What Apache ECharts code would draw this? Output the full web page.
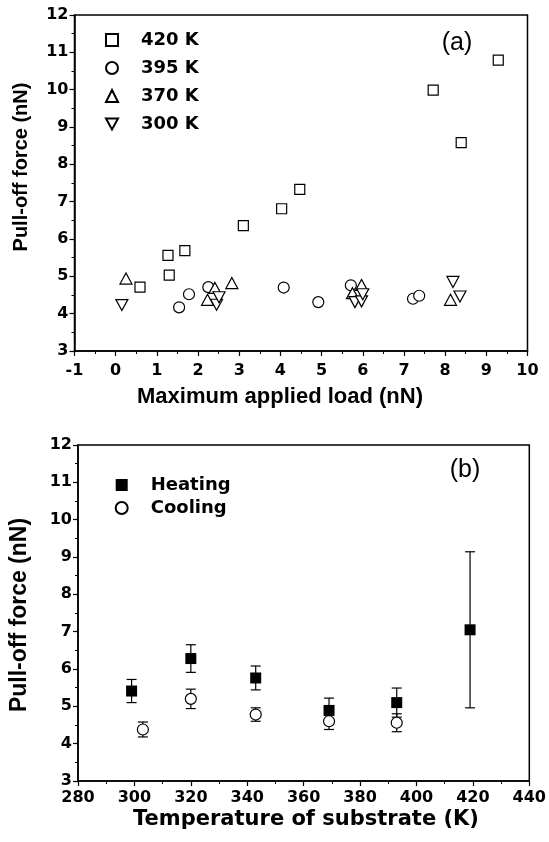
<!DOCTYPE html>
<html><head><meta charset="utf-8">
<script src="https://cdn.jsdelivr.net/npm/echarts@6/dist/echarts.min.js"></script>
<style>html,body{margin:0;padding:0;background:#fff}#c{width:549px;height:842px}</style>
</head><body><div id="c"></div>
<script>
// Panel (a): pull-off force vs maximum applied load
const sq420 = [[0.59,4.71],[1.27,5.56],[1.30,5.03],[1.68,5.69],[3.10,6.36],[4.03,6.81],[4.47,7.33],[7.71,9.99],[8.39,8.58],[9.29,10.79]];
const ci395 = [[1.54,4.17],[1.78,4.52],[2.25,4.71],[4.08,4.70],[4.92,4.31],[5.71,4.76],[7.22,4.40],[7.37,4.48]];
const up370 = [[0.25,4.94],[2.23,4.37],[2.41,4.69],[2.82,4.82],[5.75,4.55],[5.97,4.77],[8.13,4.37]];
const dn300 = [[0.15,4.23],[2.45,4.24],[2.51,4.44],[5.81,4.31],[5.97,4.33],[6.00,4.52],[8.19,4.85],[8.36,4.46]];
const namesA = ['420 K','395 K','370 K','300 K'];
// Panel (b): pull-off force vs temperature
const heatT = [299,320,343,369,393,419];
const heatF = [5.41,6.28,5.76,4.89,5.10,7.05];
const heatErr = [0.31,0.37,0.32,0.33,0.39,2.09];
const coolT = [303,320,343,369,393];
const coolF = [4.38,5.20,4.78,4.60,4.56];
const coolErr = [0.20,0.26,0.18,0.22,0.24];
const namesB = ['Heating','Cooling'];

const heatData = heatT.map((t,i)=>[t,heatF[i],heatErr[i]]);
const coolData = coolT.map((t,i)=>[t,coolF[i],coolErr[i]]);
const downTri = 'path://M0,0L12,0L6,11Z';

const tickFont = {fontFamily:'DejaVu Sans', fontWeight:'bold', fontSize:16, color:'#000'};
function xAx(idx, min, max, interval, margin){
  return {gridIndex:idx, type:'value', min, max, interval,
    axisLine:{show:true, onZero:false, lineStyle:{color:'#000', width:1.5}},
    axisTick:{show:true, length:5, lineStyle:{color:'#000', width:1.2}},
    minorTick:{show:true, splitNumber:2, length:3, lineStyle:{color:'#000', width:1}},
    splitLine:{show:false}, minorSplitLine:{show:false},
    axisLabel:Object.assign({margin}, tickFont)};
}
function yAx(idx){
  return {gridIndex:idx, type:'value', min:3, max:12, interval:1,
    axisLine:{show:true, onZero:false, lineStyle:{color:'#000', width:1.5}},
    axisTick:{show:true, length:5, lineStyle:{color:'#000', width:1.2}},
    minorTick:{show:true, splitNumber:2, length:3, lineStyle:{color:'#000', width:1}},
    splitLine:{show:false}, minorSplitLine:{show:false},
    axisLabel:Object.assign({margin:6}, tickFont)};
}
const openStyle = {color:'#fff', borderColor:'#000', borderWidth:1.2, opacity:1};
function errBar(params, api){
  const x = api.value(0), y = api.value(1), e = api.value(2);
  const t = api.coord([x, y+e]), b = api.coord([x, y-e]);
  const hw = 5, st = {stroke:'#000', lineWidth:1.2};
  return {type:'group', children:[
    {type:'line', shape:{x1:t[0], y1:t[1], x2:b[0], y2:b[1]}, style:st},
    {type:'line', shape:{x1:t[0]-hw, y1:t[1], x2:t[0]+hw, y2:t[1]}, style:st},
    {type:'line', shape:{x1:b[0]-hw, y1:b[1], x2:b[0]+hw, y2:b[1]}, style:st}
  ]};
}
const legendText = {fontFamily:'DejaVu Sans', fontWeight:'bold', fontSize:18, color:'#000', lineHeight:18, padding:[0,0,0,18]};
const ctr = {fill:'#000', textAlign:'center', textVerticalAlign:'middle', align:'center', verticalAlign:'middle'};
const option = {
  animation:false,
  backgroundColor:'#fff',
  grid:[
    {left:74.5, top:15, width:453, height:336, show:true, borderColor:'#000', borderWidth:1.5, backgroundColor:'transparent'},
    {left:78, top:445, width:455, height:336, show:true, borderColor:'#000', borderWidth:1.5, backgroundColor:'transparent'}
  ],
  xAxis:[xAx(0,-1,10,1,12), xAx(1,280,440,20,9)],
  yAxis:[yAx(0), yAx(1)],
  legend:[
    {data:namesA, orient:'vertical', left:105, top:31, padding:0, itemGap:10, itemWidth:12, itemHeight:12, textStyle:legendText, selectedMode:false},
    {data:namesB, orient:'vertical', left:114.7, top:476, padding:0, itemGap:5, itemWidth:12, itemHeight:12, textStyle:legendText, selectedMode:false}
  ],
  graphic:[
    {type:'text', x:457, y:43, style:Object.assign({text:'(a)', font:'25px "Liberation Sans"'}, ctr)},
    {type:'text', x:465, y:470, style:Object.assign({text:'(b)', font:'25px "Liberation Sans"'}, ctr)},
    {type:'text', x:280, y:397, style:Object.assign({text:'Maximum applied load (nN)', font:'bold 22px "Liberation Sans"'}, ctr)},
    {type:'text', x:21, y:167, rotation:Math.PI/2, style:Object.assign({text:'Pull-off force (nN)', font:'bold 20px "Liberation Sans"'}, ctr)},
    {type:'text', x:306, y:820, style:Object.assign({text:'Temperature of substrate (K)', font:'bold 21px "DejaVu Sans"'}, ctr)},
    {type:'text', x:20, y:615, rotation:Math.PI/2, style:Object.assign({text:'Pull-off force (nN)', font:'bold 23px "Liberation Sans"'}, ctr)}
  ],
  series:[
    {name:namesA[0], type:'scatter', xAxisIndex:0, yAxisIndex:0, data:sq420, symbol:'rect', symbolSize:10, itemStyle:openStyle},
    {name:namesA[1], type:'scatter', xAxisIndex:0, yAxisIndex:0, data:ci395, symbol:'circle', symbolSize:11, itemStyle:openStyle},
    {name:namesA[2], type:'scatter', xAxisIndex:0, yAxisIndex:0, data:up370, symbol:'triangle', symbolSize:[12,11], itemStyle:openStyle},
    {name:namesA[3], type:'scatter', xAxisIndex:0, yAxisIndex:0, data:dn300, symbol:downTri, symbolSize:[12,11], itemStyle:openStyle},
    {type:'custom', xAxisIndex:1, yAxisIndex:1, data:heatData, renderItem:errBar, encode:{x:0, y:[1]}, z:1},
    {type:'custom', xAxisIndex:1, yAxisIndex:1, data:coolData, renderItem:errBar, encode:{x:0, y:[1]}, z:1},
    {name:namesB[0], type:'scatter', xAxisIndex:1, yAxisIndex:1, data:heatData.map(d=>[d[0],d[1]]), symbol:'rect', symbolSize:11, itemStyle:{color:'#000', borderColor:'#000', borderWidth:0, opacity:1}, z:3},
    {name:namesB[1], type:'scatter', xAxisIndex:1, yAxisIndex:1, data:coolData.map(d=>[d[0],d[1]]), symbol:'circle', symbolSize:11, itemStyle:openStyle, z:3}
  ]
};
const chart = echarts.init(document.getElementById('c'), null, {renderer:'canvas'});
chart.setOption(option);
</script></body></html>
